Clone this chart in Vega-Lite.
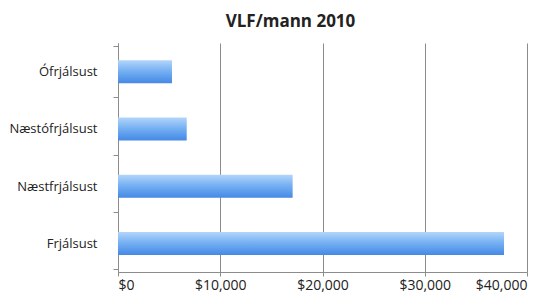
{
  "$schema": "https://vega.github.io/schema/vega-lite/v6.json",
  "autosize": {"type": "none"},
  "width": 409,
  "height": 229,
  "padding": {"left": 118, "top": 43, "right": 25, "bottom": 27},
  "background": "white",
  "title": {
    "text": "VLF/mann 2010",
    "font": "Open Sans",
    "fontSize": 17,
    "fontWeight": "bold",
    "color": "#222222",
    "anchor": "middle",
    "frame": "group",
    "dx": -32,
    "offset": 6
  },
  "data": {
    "values": [
      {"flokkur": "Ófrjálsust", "vlf": 5280},
      {"flokkur": "Næstófrjálsust", "vlf": 6720},
      {"flokkur": "Næstfrjálsust", "vlf": 17080},
      {"flokkur": "Frjálsust", "vlf": 37750}
    ]
  },
  "config": {
    "view": {"stroke": null},
    "axis": {
      "labelFont": "Open Sans",
      "labelColor": "#222222",
      "domainColor": "#8c8c8c",
      "tickColor": "#8c8c8c",
      "gridColor": "#8c8c8c"
    }
  },
  "mark": {
    "type": "bar",
    "size": 23,
    "color": {
      "gradient": "linear",
      "x1": 0, "y1": 0, "x2": 0, "y2": 1,
      "stops": [
        {"offset": 0, "color": "#b3d6fa"},
        {"offset": 0.45, "color": "#78b2f3"},
        {"offset": 1, "color": "#4589e6"}
      ]
    }
  },
  "encoding": {
    "y": {
      "field": "flokkur",
      "type": "nominal",
      "sort": ["Ófrjálsust", "Næstófrjálsust", "Næstfrjálsust", "Frjálsust"],
      "title": null,
      "axis": {
        "tickBand": "extent",
        "tickSize": 5,
        "labelPadding": 16,
        "labelFontSize": 13,
        "grid": false
      }
    },
    "x": {
      "field": "vlf",
      "type": "quantitative",
      "scale": {"domain": [0, 40000], "nice": false},
      "title": null,
      "axis": {
        "values": [0, 10000, 20000, 30000, 40000],
        "format": "$,.0f",
        "tickSize": 4,
        "labelPadding": 2,
        "labelFontSize": 14,
        "grid": true
      }
    }
  }
}
